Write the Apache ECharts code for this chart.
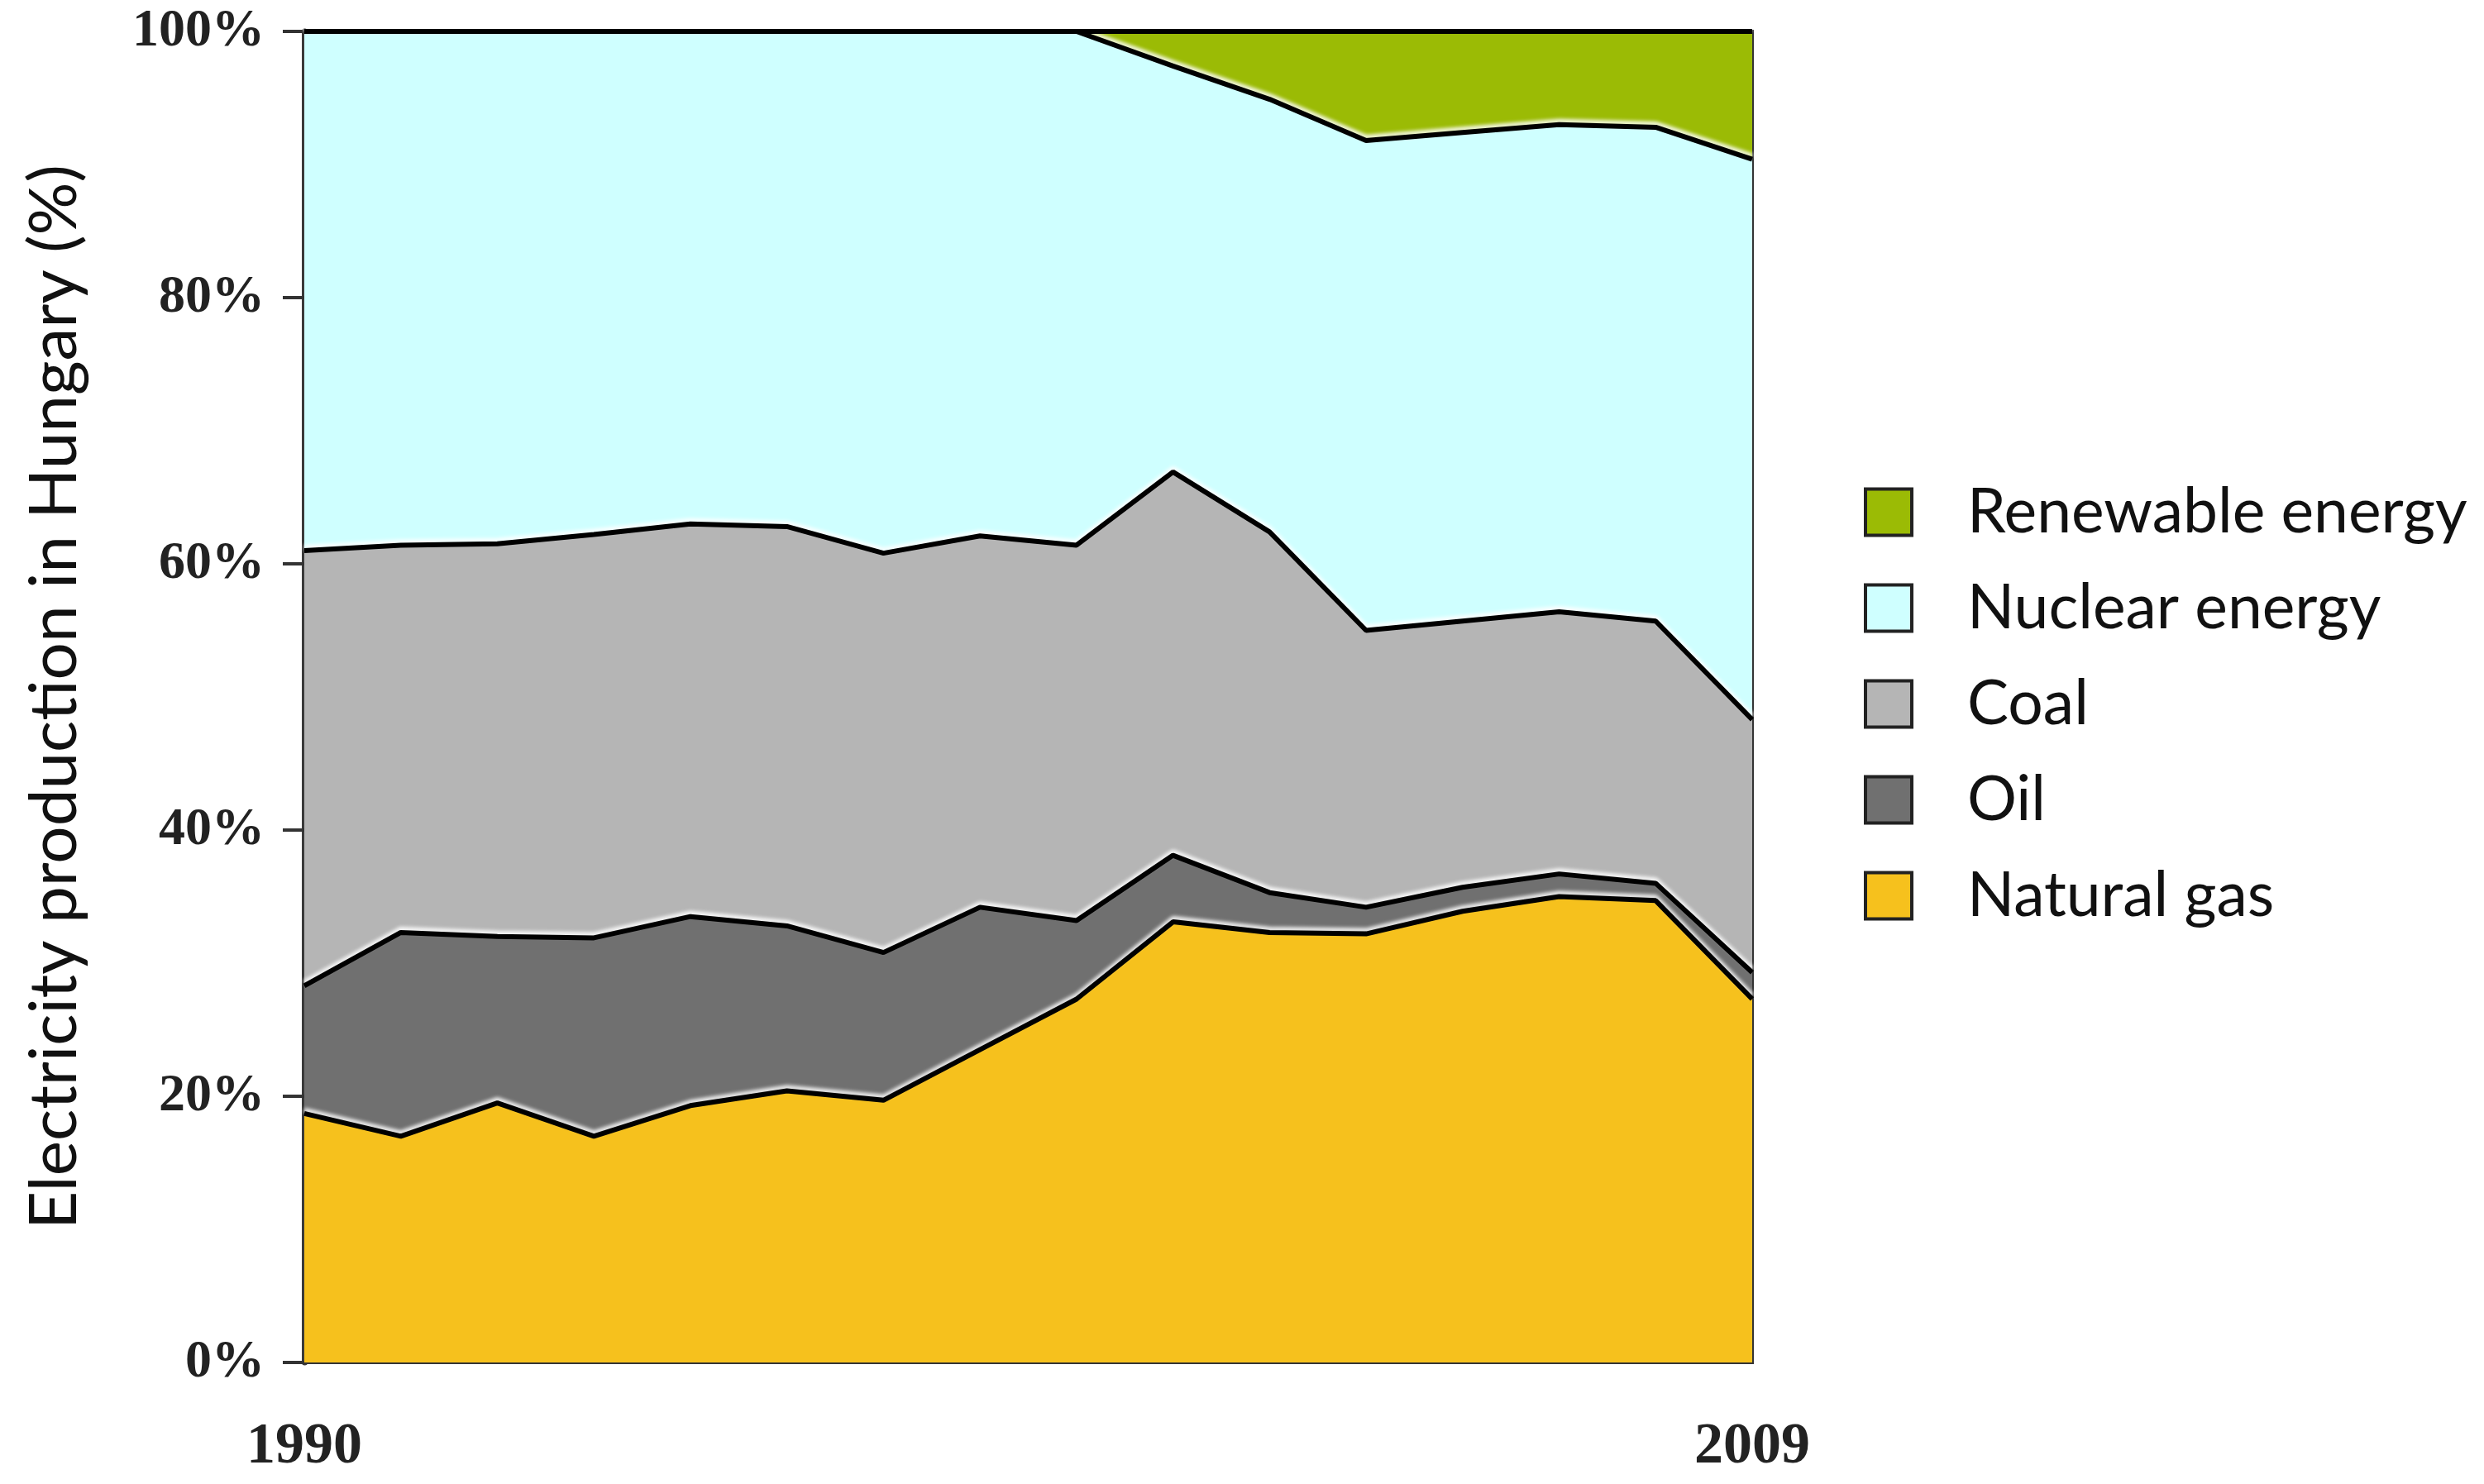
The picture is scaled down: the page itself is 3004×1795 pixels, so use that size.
<!DOCTYPE html>
<html>
<head>
<meta charset="utf-8">
<script src="https://cdn.jsdelivr.net/npm/echarts@6/dist/echarts.min.js"></script>
<style>
html,body{margin:0;padding:0;background:#fff;}
#c{width:3004px;height:1795px;}
</style>
</head>
<body>
<div id="c"></div>
<script>
// 16 evenly spaced data points spanning 1990 to 2009 (only the end years are labelled)
const categories = ['1990', 'p2', 'p3', 'p4', 'p5', 'p6', 'p7', 'p8', 'p9', 'p10', 'p11', 'p12', 'p13', 'p14', 'p15', '2009'];
const xTickLabels = ['1990', '2009'];
// shares (%) of each source
const naturalGas = [18.7, 17.0, 19.5, 17.0, 19.3, 20.4, 19.7, 23.5, 27.3, 33.1, 32.3, 32.2, 33.9, 35.0, 34.7, 27.3];
const oil        = [9.6, 15.3, 12.5, 14.9, 14.2, 12.4, 11.1, 10.7, 5.9, 5.0, 3.0, 2.0, 1.8, 1.7, 1.3, 2.0];
const coal       = [32.7, 29.1, 29.5, 30.3, 29.5, 30.0, 30.0, 27.9, 28.2, 28.8, 27.1, 20.8, 20.0, 19.7, 19.7, 19.0];
const nuclear    = [39.0, 38.6, 38.5, 37.8, 37.0, 37.2, 39.2, 37.9, 38.6, 30.5, 32.5, 36.8, 36.7, 36.6, 37.1, 42.1];
const renewable  = [0, 0, 0, 0, 0, 0, 0, 0, 0, 2.6, 5.1, 8.2, 7.6, 7.0, 7.2, 9.6];

const seriesDefs = [
  {name: 'Natural gas', data: naturalGas, color: '#F6C11D'},
  {name: 'Oil', data: oil, color: '#707070'},
  {name: 'Coal', data: coal, color: '#B5B5B5'},
  {name: 'Nuclear energy', data: nuclear, color: '#CFFFFF'},
  {name: 'Renewable energy', data: renewable, color: '#9BBB05'}
];

const chart = echarts.init(document.getElementById('c'), null, {renderer: 'canvas'});
chart.setOption({
  backgroundColor: '#ffffff',
  animation: false,
  grid: {left: 368, right: 885, top: 38, bottom: 147, show: true, borderColor: '#333', borderWidth: 4, backgroundColor: 'transparent'},
  legend: {
    orient: 'vertical',
    left: 2249,
    top: 577,
    itemWidth: 56,
    itemHeight: 56,
    itemGap: 41,
    icon: 'rect',
    data: ['Renewable energy', 'Nuclear energy', 'Coal', 'Oil', 'Natural gas'],
    itemStyle: {borderColor: '#222', borderWidth: 4},
    textStyle: {fontFamily: 'Lato', fontSize: 75, color: '#111', padding: [0, 0, 0, 62]}
  },
  xAxis: {
    type: 'category',
    data: categories,
    boundaryGap: false,
    axisLine: {show: true, lineStyle: {color: '#333', width: 4}},
    axisTick: {show: false},
    splitLine: {show: false},
    axisLabel: {
      interval: 0,
      margin: 68,
      fontFamily: 'Liberation Serif',
      fontWeight: 'bold',
      fontSize: 70,
      color: '#222',
      formatter: function (v) { return xTickLabels.indexOf(v) >= 0 ? v : ''; }
    }
  },
  yAxis: {
    type: 'value',
    min: 0,
    max: 100,
    interval: 20,
    name: 'Electricity production in Hungary (%)',
    nameLocation: 'middle',
    nameRotate: 90,
    nameGap: 262,
    nameTextStyle: {fontFamily: 'Lato', fontSize: 80, color: '#111'},
    axisLine: {show: true, lineStyle: {color: '#3a3a3a', width: 7}},
    axisTick: {show: true, inside: false, length: 26, lineStyle: {color: '#333', width: 4}},
    splitLine: {show: false},
    axisLabel: {
      margin: 48,
      fontFamily: 'Liberation Serif',
      fontWeight: 'bold',
      fontSize: 64,
      color: '#222',
      formatter: '{value}%'
    }
  },
  series: seriesDefs.map(function (s) {
    return {
      name: s.name,
      type: 'line',
      stack: 'total',
      symbol: 'none',
      data: s.data,
      color: s.color,
      lineStyle: {color: '#000', width: 6, shadowColor: 'rgba(255,255,255,0.9)', shadowBlur: 4, shadowOffsetY: -4},
      areaStyle: {color: s.color, opacity: 1},
      itemStyle: {color: s.color},
      emphasis: {disabled: true}
    };
  })
});
</script>
</body>
</html>
